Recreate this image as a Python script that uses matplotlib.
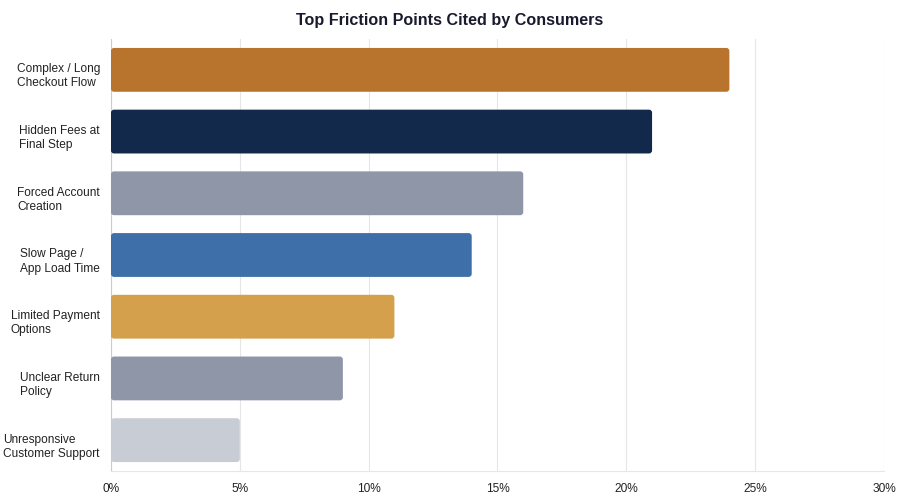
import matplotlib
matplotlib.use("Agg")
import matplotlib.pyplot as plt
import matplotlib.transforms as mtransforms
from matplotlib.patches import FancyBboxPatch

plt.rcParams['font.family'] = ['Liberation Sans', 'DejaVu Sans']

# data
reasons = ['Complex / Long\nCheckout Flow', 'Hidden Fees at\nFinal Step', 'Forced Account\nCreation',
           'Slow Page /\nApp Load Time', 'Limited Payment\nOptions', 'Unclear Return\nPolicy',
           'Unresponsive\nCustomer Support']
share = [24, 21, 16, 14, 11, 9, 5]
colors = ['#B8742C', '#13294B', '#8E96A8', '#3E6FA8', '#D4A04C', '#8E96A8', '#C8CCD5']
ticks = [0, 5, 10, 15, 20, 25, 30]

fig = plt.figure(figsize=(9, 5), dpi=100)
ax = fig.add_axes([0.1233, 0.058, 0.8589, 0.864])

ypos = list(range(len(reasons)))
bars = ax.barh(ypos, share, height=0.71, color=colors)

# swap plain bars for slightly rounded ones
for b in bars:
    b.set_visible(False)
    p = FancyBboxPatch((b.get_x(), b.get_y()), b.get_width(), b.get_height(),
                       boxstyle="round,pad=0,rounding_size=0.12", mutation_aspect=0.41,
                       facecolor=b.get_facecolor(), edgecolor='none', zorder=3)
    ax.add_patch(p)

ax.set_xlim(0, 30)
ax.set_ylim(len(reasons) - 0.5, -0.5)
ax.set_xticks(ticks)
ax.set_xticklabels([f'{t}%' for t in ticks])
ax.set_yticks(ypos)
ax.set_yticklabels([])

# category labels, left-aligned block sitting a bit below the bar centre
trans = mtransforms.offset_copy(ax.get_yaxis_transform(), fig=fig, x=-11, y=-6.5, units='dots')
for y, lab in zip(ypos, reasons):
    ax.text(0, y, lab, transform=trans, ha='right', va='center', multialignment='left',
            linespacing=1.25, fontsize=8.6, color='#222222')

ax.tick_params(axis='both', length=0, labelsize=8.6, colors='#222222')
ax.tick_params(axis='x', pad=9)
ax.grid(axis='x', color='#E6E6E6', linewidth=0.8, zorder=0)
ax.set_axisbelow(True)
for s in ['top', 'right']:
    ax.spines[s].set_visible(False)
ax.spines['left'].set_color('#CCCCCC')
ax.spines['bottom'].set_color('#E6E6E6')

fig.suptitle('Top Friction Points Cited by Consumers', y=0.975, fontsize=11.6,
             fontweight='bold', color='#1a1a2e')

fig.savefig('out.png', dpi=100)
